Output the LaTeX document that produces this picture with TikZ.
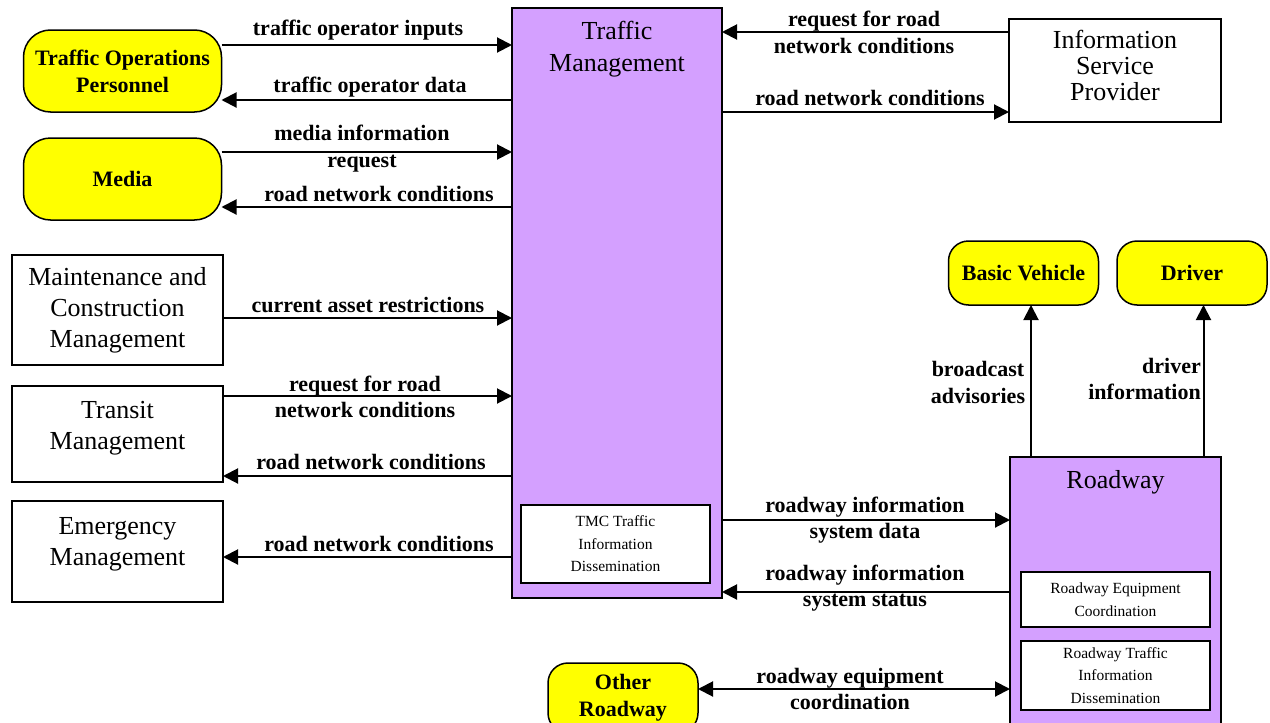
\documentclass[tikz,border=0pt]{standalone}
\usepackage{fontspec}
\setmainfont{Liberation Serif}
\usetikzlibrary{arrows.meta}
\definecolor{lav}{RGB}{212,160,255}
\definecolor{yel}{RGB}{255,255,0}
\begin{document}
\begin{tikzpicture}[x=1pt,y=-1pt,
  box/.style={draw, line width=1.5pt, fill=white, inner sep=0pt, outer sep=0pt, align=center, font=\fontsize{26}{31}\selectfont},
  pbox/.style={box, fill=lav},
  sbox/.style={box, font=\fontsize{15.5}{22.5}\selectfont},
  btext/.style={inner sep=0pt, align=center, font=\fontsize{26}{31}\selectfont},
  term/.style={draw, line width=1.5pt, fill=yel, rounded corners=20pt, inner sep=0pt, outer sep=0pt, align=center, font=\fontsize{22}{27}\selectfont\bfseries},
  bigterm/.style={term, rounded corners=27pt},
  lbl/.style={inner sep=0pt, align=center, font=\fontsize{22}{26.5}\selectfont\bfseries},
  arr/.style={line width=2pt, -{Triangle[length=15pt,width=15pt]}},
  darr/.style={line width=2pt, {Triangle[length=15pt,width=15pt]}-{Triangle[length=15pt,width=15pt]}}
]
\useasboundingbox (0,0) rectangle (1270,723);
\clip (0,0) rectangle (1270,723);

% main boxes
\node[pbox, minimum width=210pt, minimum height=590pt] (tm) at (617,303) {};
\node[btext, font=\fontsize{26}{32}\selectfont] (tmt) at (617,49) {Traffic\\Management};
\node[sbox, minimum width=189pt, minimum height=78pt] (tmc) at (615.5,544) {TMC Traffic\\Information\\Dissemination};

\node[bigterm, minimum width=198pt, minimum height=82pt] (top) at (122.5,71) {Traffic Operations\\Personnel};
\node[bigterm, minimum width=198pt, minimum height=82pt] (med) at (122.5,179) {Media};
\node[box, minimum width=211pt, minimum height=110pt] (mcm) at (117.5,310) {Maintenance and\\Construction\\Management};
\node[box, minimum width=211pt, minimum height=96pt,
      label={[btext, name=trt, yshift=5.5pt]center:{Transit\\Management}}] (trm) at (117.5,434) {};
\node[box, minimum width=211pt, minimum height=101pt,
      label={[btext, name=emt, yshift=7.5pt]center:{Emergency\\Management}}] (em) at (117.5,551.5) {};

\node[box, minimum width=212pt, minimum height=103pt,
      label={[btext, font=\fontsize{26}{26}\selectfont, name=ispt, yshift=5.5pt]center:{Information\\Service\\Provider}}] (isp) at (1115,70.5) {};

\node[term, minimum width=150pt, minimum height=64pt] (bv) at (1023.5,273) {Basic Vehicle};
\node[term, minimum width=150pt, minimum height=64pt] (drv) at (1192,273) {Driver};

\node[pbox, minimum width=211pt, minimum height=283pt] (rw) at (1115.5,598.5) {};
\node[btext] (rwt) at (1115.5,482) {Roadway};
\node[sbox, minimum width=189pt, minimum height=55pt] (rec) at (1115.5,599.5) {Roadway Equipment\\Coordination};
\node[sbox, minimum width=189pt, minimum height=69pt] (rtid) at (1115.5,675.5) {Roadway Traffic\\Information\\Dissemination};

\node[term, minimum width=150pt, minimum height=70pt] (oth) at (623,698) {Other\\Roadway};

% connectors
\coordinate (a1) at ([yshift=26pt]top.east);
\draw[arr] (a1) -- (a1 -| tm.west);
\coordinate (a2) at ([yshift=-29pt]top.east);
\draw[arr] (a2 -| tm.west) -- (a2);
\coordinate (a3) at ([yshift=27pt]med.east);
\draw[arr] (a3) -- (a3 -| tm.west);
\coordinate (a4) at ([yshift=-28pt]med.east);
\draw[arr] (a4 -| tm.west) -- (a4);
\coordinate (a5) at ([yshift=-8pt]mcm.east);
\draw[arr] (a5) -- (a5 -| tm.west);
\coordinate (a6) at ([yshift=38pt]trm.east);
\draw[arr] (a6) -- (a6 -| tm.west);
\coordinate (a7) at ([yshift=-42pt]trm.east);
\draw[arr] (a7 -| tm.west) -- (a7);
\coordinate (a8) at ([yshift=-5.5pt]em.east);
\draw[arr] (a8 -| tm.west) -- (a8);

\coordinate (i1) at ([yshift=38.5pt]isp.west);
\draw[arr] (i1) -- (i1 -| tm.east);
\coordinate (i2) at ([yshift=-41.5pt]isp.west);
\draw[arr] (i2 -| tm.east) -- (i2);

\coordinate (r1) at ([yshift=-217pt]tm.east);
\draw[arr] (r1) -- (r1 -| rw.west);
\coordinate (r2) at ([yshift=-289pt]tm.east);
\draw[arr] (r2 -| rw.west) -- (r2);

\coordinate (o1) at ([yshift=9pt]oth.east);
\draw[darr] (o1) -- (o1 -| rw.west);

\coordinate (v1) at ([xshift=-84.5pt]rw.north);
\draw[arr] (v1) -- (v1 |- bv.south);
\coordinate (v2) at ([xshift=88pt]rw.north);
\draw[arr] (v2) -- (v2 |- drv.south);

% labels
\node[lbl] (l1) at (358,30) {traffic operator inputs};
\node[lbl] (l2) at (370,87) {traffic operator data};
\node[lbl] (l3) at (362,148.5) {media information\\request};
\node[lbl] (l4) at (379,194) {road network conditions};
\node[lbl] (l5) at (368,305) {current asset restrictions};
\node[lbl] (l6) at (365,397) {request for road\\network conditions};
\node[lbl] (l7) at (371,462) {road network conditions};
\node[lbl] (l8) at (379,544) {road network conditions};
\node[lbl] (l9) at (864,32.5) {request for road\\network conditions};
\node[lbl] (l10) at (870,98) {road network conditions};
\node[lbl] (l11) at (865,520) {roadway information\\system data};
\node[lbl] (l12) at (865,588) {roadway information\\system status};
\node[lbl] (l13) at (850,689) {roadway equipment\\coordination};
\node[lbl] (l14) at (978,382.5) {broadcast\\advisories};
\node[lbl, align=right, anchor=east] (l15) at (1201,379) {driver\\information};
\end{tikzpicture}
\end{document}
